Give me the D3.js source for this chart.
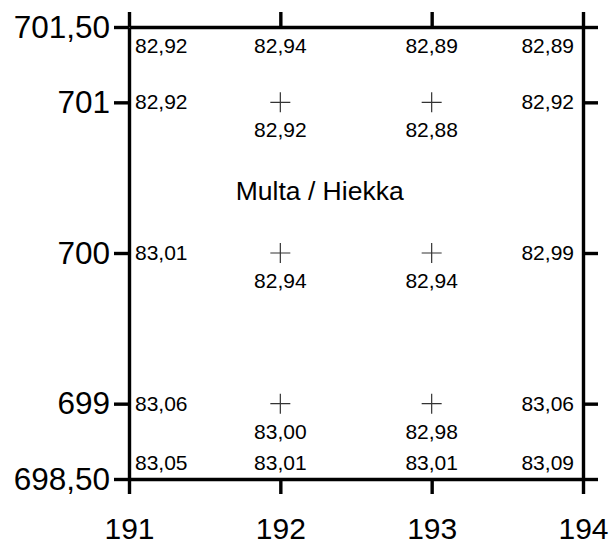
<!DOCTYPE html>
<html lang="en">
<head>
    <meta charset="UTF-8">
    <title>Multa / Hiekka</title>
    <style>
        body { margin: 0; background: #fff; }
        svg { font-family: "Liberation Sans", Arial, sans-serif; }
        .frame path, .frame line { stroke: #000; stroke-width: 3.4; }
        .frame text { font-size: 31.5px; fill: #000; }
        .frame.bottom text { font-size: 30px; }
        .val { font-size: 21px; fill: #000; }
        .plus { stroke: #333; stroke-width: 1.2; fill: none; }
    </style>
</head>
<body>
    <div id="chart"></div>

    <script src="https://d3js.org/d3.v7.min.js"></script>
    <script>
        // Grid of sample points and the value measured at each one
        const xValues = [191, 192, 193, 194];
        const yValues = [701.5, 701, 700, 699, 698.5];
        const row70150 = ["82,92", "82,94", "82,89", "82,89"];
        const row701 = ["82,92", "82,92", "82,88", "82,92"];
        const row700 = ["83,01", "82,94", "82,94", "82,99"];
        const row699 = ["83,06", "83,00", "82,98", "83,06"];
        const row69850 = ["83,05", "83,01", "83,01", "83,09"];
        const rows = [row70150, row701, row700, row699, row69850];

        const xTicks = [191, 192, 193, 194];
        const yTicks = [698.5, 699, 700, 701, 701.5];
        const yTickLabels = ["698,50", "699", "700", "701", "701,50"];
        const title = "Multa / Hiekka";

        const W = 613, H = 546;
        const margin = { top: 27, right: 30, bottom: 67, left: 129 };

        const x = d3.scaleLinear().domain([191, 194]).range([margin.left, W - margin.right]);
        const y = d3.scaleLinear().domain([698.5, 701.5]).range([H - margin.bottom, margin.top]);

        const svg = d3.select('#chart')
            .append('svg')
            .attr('width', W)
            .attr('height', H);

        // Frame: four axes with outward ticks
        svg.append('g')
            .attr('class', 'frame')
            .attr('transform', `translate(${margin.left},0)`)
            .call(d3.axisLeft(y).tickValues(yTicks).tickSize(15).tickSizeOuter(0).tickPadding(4)
                .tickFormat((d, i) => yTickLabels[i]));

        svg.append('g')
            .attr('class', 'frame')
            .attr('transform', `translate(${W - margin.right},0)`)
            .call(d3.axisRight(y).tickValues(yTicks).tickSize(15).tickSizeOuter(0).tickFormat(''));

        svg.append('g')
            .attr('class', 'frame')
            .attr('transform', `translate(0,${margin.top})`)
            .call(d3.axisTop(x).tickValues(xTicks).tickSize(15).tickSizeOuter(0).tickFormat(''));

        svg.append('g')
            .attr('class', 'frame bottom')
            .attr('transform', `translate(0,${H - margin.bottom})`)
            .call(d3.axisBottom(x).tickValues(xTicks).tickSize(15).tickSizeOuter(0).tickPadding(24)
                .tickFormat(d3.format('d')));

        svg.selectAll('.frame .tick text').attr('fill', '#000');

        // Points and labels
        const points = [];
        yValues.forEach((yv, r) => {
            xValues.forEach((xv, c) => {
                points.push({ x: xv, y: yv, r, c, label: rows[r][c] });
            });
        });

        const lastC = xValues.length - 1, lastR = yValues.length - 1;
        const interior = d => d.c > 0 && d.c < lastC && d.r > 0 && d.r < lastR;

        svg.selectAll('.plus')
            .data(points.filter(interior))
            .enter()
            .append('path')
            .attr('class', 'plus')
            .attr('d', d => {
                const px = x(d.x), py = y(d.y);
                return `M${px - 10},${py}H${px + 10}M${px},${py - 10}V${py + 10}`;
            });

        svg.selectAll('.val')
            .data(points)
            .enter()
            .append('text')
            .attr('class', 'val')
            .attr('text-anchor', d => d.c === 0 ? 'start' : d.c === lastC ? 'end' : 'middle')
            .attr('x', d => x(d.x) + (d.c === 0 ? 6 : d.c === lastC ? -9 : 0))
            .attr('y', d => {
                const py = y(d.y);
                if (d.r === 0) return py + 26;
                if (d.r === lastR) return py - 9;
                if (interior(d)) return py + 35;
                return py + 7;
            })
            .text(d => d.label);

        svg.append('text')
            .attr('x', x(192.26))
            .attr('y', 200)
            .attr('text-anchor', 'middle')
            .style('font-size', '26.5px')
            .text(title);
    </script>
</body>
</html>
